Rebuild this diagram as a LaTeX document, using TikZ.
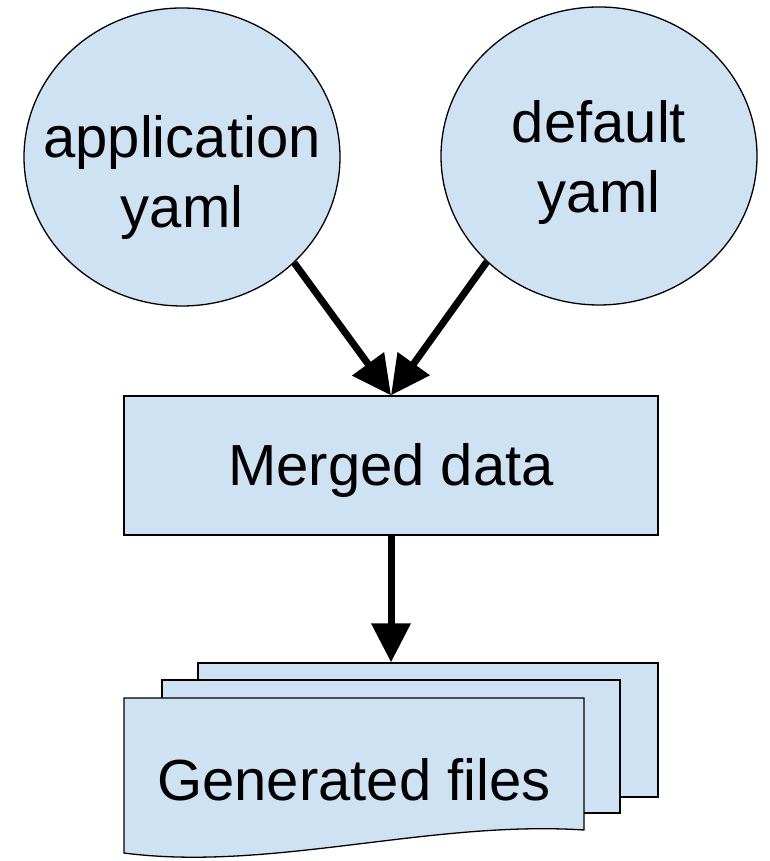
\documentclass[tikz,border=0pt]{standalone}
\usepackage{fontspec}
\setmainfont{Liberation Sans}
\usetikzlibrary{shapes.geometric,arrows.meta}
\definecolor{lblue}{HTML}{CFE2F3}
\tikzset{
  shapebox/.style={draw=black, line width=1.3pt, fill=lblue},
  oval/.style={shapebox, ellipse, minimum width=316pt, minimum height=298pt, inner sep=0pt},
  txt/.style={font=\fontsize{58}{70}\selectfont, align=center, inner sep=0pt},
  flow/.style={line width=7pt, -{Triangle[length=39pt,width=38pt]}},
}
\begin{document}
\begin{tikzpicture}[x=1pt,y=1pt]
\useasboundingbox (0,0) rectangle (769,861);
% input ovals
\node[oval] (app) at (182,704) {};
\node[txt] (apptxt) at (182,683) {application\\yaml};
\node[oval] (dflt) at (599,705) {};
\node[txt] (dflttxt) at (599,698) {default\\yaml};
% merged box
\node[shapebox, rectangle, minimum width=534pt, minimum height=139pt, inner sep=0pt] (merged) at (391,395.5) {};
\node[txt, anchor=base] (mergedtxt) at (391,375) {Merged data};
% document stack
\node[shapebox, rectangle, minimum width=460pt, minimum height=134pt, inner sep=0pt] (back) at (428,131) {};
\node[shapebox, rectangle, minimum width=458pt, minimum height=133pt, inner sep=0pt] (mid) at (391,114.5) {};
\draw[shapebox] (124,163) -- (584,163) -- (584,31)
  .. controls (430,41) and (270,-11) .. (124,8) -- cycle;
\node[txt] (gen) at (354,81) {Generated files};
\coordinate (backin) at (merged.south |- back.north);
% connectors
\draw[flow] (app.south east) -- (merged.north);
\draw[flow] (dflt.south west) -- (merged.north);
\draw[flow] (merged.south) -- (backin);
\end{tikzpicture}
\end{document}
